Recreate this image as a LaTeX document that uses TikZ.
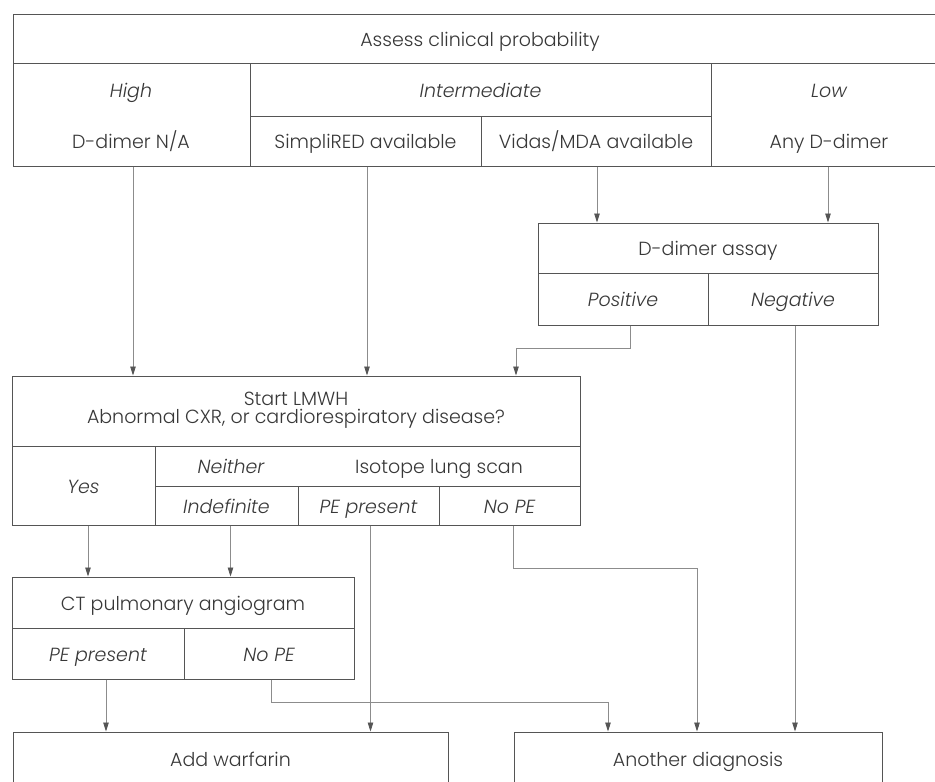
\documentclass[tikz,border=0pt]{standalone}
\usepackage{fontspec}
\setmainfont{Poppins}[UprightFont=* Light, ItalicFont=* Light Italic]
\usetikzlibrary{arrows.meta,calc}
\definecolor{ln}{HTML}{555555}
\definecolor{cn}{HTML}{8C8C8C}
\definecolor{tx}{HTML}{383838}
\newcommand{\mycell}[6]{\node[cellsty, minimum width={(#4-#2)*1pt}, minimum height={(#5-#3)*1pt}] (#1) at ({(#2+#4)/2},{(#3+#5)/2}) {#6};}
\begin{document}
\begin{tikzpicture}[x=1pt,y=-1pt,
  fnt/.style={font=\fontsize{19}{19}\selectfont},
  cellsty/.style={draw=ln, line width=1pt, inner sep=0pt, text=tx, fnt, text height=17pt, text depth=2pt},
  lbl/.style={inner sep=0pt, text=tx, fnt, text height=17pt, text depth=2pt},
  arr/.style={draw=cn, line width=0.8pt, -{Triangle[length=9pt,width=5.5pt,fill=ln,color=ln]}}]
\useasboundingbox (0,0) rectangle (935,782);
\fill[white] (0,0) rectangle (935,782);
\clip (0,0) rectangle (935,782);
% top table
\mycell{assess}{13}{14}{947}{63}{Assess clinical probability}
\mycell{high}{13}{63}{250}{166}{}
\node[lbl] (hightxt) at (131,90) {\itshape High};
\node[lbl] (hightxt2) at (131,141) {D-dimer N/A};
\mycell{inter}{250}{63}{711}{116}{\itshape Intermediate}
\mycell{simpli}{250}{116}{481}{166}{SimpliRED available}
\mycell{vidas}{481}{116}{711}{166}{Vidas/MDA available}
\mycell{low}{711}{63}{947}{166}{}
\node[lbl] (lowtxt) at (829,90) {\itshape Low};
\node[lbl] (lowtxt2) at (829,141) {Any D-dimer};
% D-dimer assay
\mycell{dtitle}{538}{223}{878}{273}{D-dimer assay}
\mycell{pos}{538}{273}{708}{325}{\itshape Positive}
\mycell{neg}{708}{273}{878}{325}{\itshape Negative}
% LMWH box
\mycell{lmwh}{12}{376}{580}{446}{}
\node[lbl] (lmwh1) at (296,397.5) {Start LMWH};
\node[lbl] (lmwh2) at (296,415.5) {Abnormal CXR, or cardiorespiratory disease?};
\mycell{yes}{12}{446}{155}{525}{\itshape Yes}
\mycell{scan}{155}{446}{580}{486}{}
\node[lbl] (neither) at (231,466) {\itshape Neither};
\node[lbl] (isotope) at (439,466) {Isotope lung scan};
\mycell{indef}{155}{486}{298}{525}{\itshape Indefinite}
\mycell{pepres}{298}{486}{439}{525}{\itshape PE present}
\mycell{nope}{439}{486}{580}{525}{\itshape No PE}
% CT
\mycell{ct}{12}{577}{354}{628}{CT pulmonary angiogram}
\mycell{ctpe}{12}{628}{184}{679}{\itshape PE present}
\mycell{ctnope}{184}{628}{354}{679}{\itshape No PE}
% bottom
\mycell{warf}{13}{732}{448}{786}{Add warfarin}
\mycell{another}{514}{732}{882}{786}{Another diagnosis}
% connectors
\draw[arr] ([xshift=1.5pt]high.south) -- ([xshift=1.5pt]high.south |- lmwh.north);
\draw[arr] ([xshift=1.5pt]simpli.south) -- ([xshift=1.5pt]simpli.south |- lmwh.north);
\draw[arr] ([xshift=1pt]vidas.south) -- ([xshift=1pt]vidas.south |- dtitle.north);
\draw[arr] ([xshift=-1pt]low.south) -- ([xshift=-1pt]low.south |- dtitle.north);
\draw[arr] ([xshift=7pt]pos.south) -- ++(0,23) -| ([xshift=6.5pt]nope.north |- lmwh.north);
\draw[arr] ([xshift=2pt]neg.south) -- ([xshift=2pt]neg.south |- another.north);
\draw[arr] ([xshift=4.5pt]yes.south) -- ([xshift=4.5pt]yes.south |- ct.north);
\draw[arr] ([xshift=4pt]indef.south) -- ([xshift=4pt]indef.south |- ct.north);
\draw[arr] ([xshift=2pt]pepres.south) -- ([xshift=2pt]pepres.south |- warf.north);
\draw[arr] ([xshift=3.5pt]nope.south) -- ++(0,43) -| ([xshift=-1pt]another.north);
\draw[arr] ([xshift=8pt]ctpe.south) -- ([xshift=8pt]ctpe.south |- warf.north);
\draw[arr] ([xshift=2pt]ctnope.south) -- ++(0,23) -| ([xshift=-90pt]another.north);
\end{tikzpicture}
\end{document}
